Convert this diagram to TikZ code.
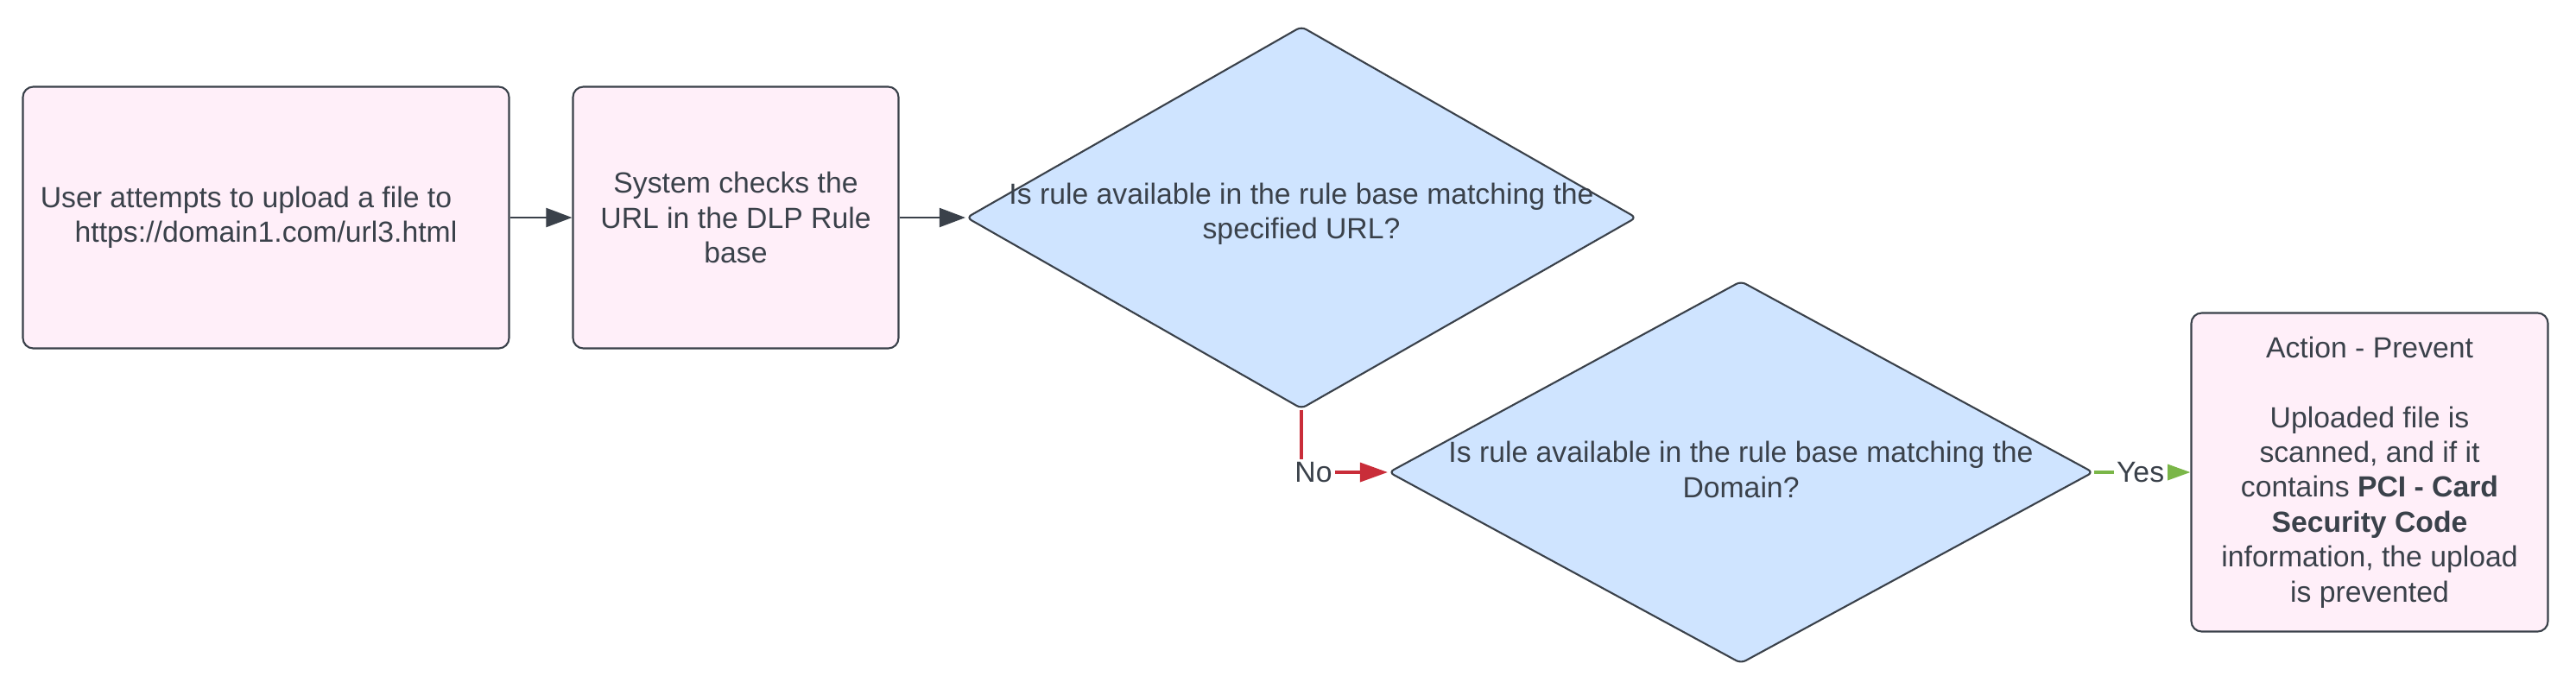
\documentclass[tikz,border=0pt]{standalone}
\usepackage{fontspec}
\setmainfont{Liberation Sans}
\usepackage{tikz}
\usetikzlibrary{positioning,calc,shapes.geometric,arrows.meta}
\definecolor{boxpink}{RGB}{255,239,249}
\definecolor{decblue}{RGB}{207,228,255}
\definecolor{linegray}{RGB}{58,65,74}
\definecolor{noRed}{RGB}{201,45,57}
\definecolor{yesGreen}{RGB}{122,182,72}

\begin{document}
\begin{tikzpicture}[
	every node/.style={font=\fontsize{9.6}{11.5}\selectfont, text=linegray},
	stepbox/.style={rectangle,draw=linegray,fill=boxpink,line width=0.6pt,rounded corners=0.12cm,align=center},
	decision/.style={diamond,draw=linegray,fill=decblue,line width=0.6pt,rounded corners=0.06cm,inner sep=0pt,minimum height=4.43cm},
	flow/.style={linegray,line width=0.6pt,-{Triangle[length=0.3cm,width=0.22cm]}},
	noflow/.style={noRed,line width=1pt,-{Triangle[length=0.32cm,width=0.22cm]}},
	yesflow/.style={yesGreen,line width=1pt,-{Triangle[length=0.32cm,width=0.22cm]}},
	]
		
		\useasboundingbox (0,0) rectangle (29.83,-8.04);
		
		\node[stepbox, minimum width=5.63cm, minimum height=3.03cm] (U) at (3.08,-2.52) {User attempts to upload a file to\hspace{0.46cm}\mbox{}\\https://domain1.com/url3.html};
		
		\node[stepbox, minimum width=3.77cm, minimum height=3.03cm] (S) at (8.52,-2.52) {System checks the\\URL in the DLP Rule\\base};
		
		\node[decision, minimum width=7.76cm] (Q1) at (15.07,-2.52) {};
		\node[align=center] (Q1 text) at ($(Q1)+(0,0.04)$) {Is rule available in the rule base matching the\\specified URL?};
		
		\node[decision, minimum width=8.16cm] (Q2) at (20.16,-5.47) {};
		\node[align=center] (Q2 text) at ($(Q2)+(0,0.03)$) {Is rule available in the rule base matching the\\Domain?};
		
		\node[stepbox, minimum width=4.13cm, minimum height=3.69cm] (P) at (27.44,-5.47) {Action - Prevent\\[11.5pt]Uploaded file is\\scanned, and if it\\contains \textbf{PCI - Card}\\\textbf{Security Code}\\information, the upload\\is prevented};
		
		\draw[flow] (U) -- (S);
		\draw[flow] (S) -- (Q1);
		
		\draw[noflow] (Q1.south) |- (Q2.west) node[pos=0.57,fill=white,inner sep=1pt] (No) {No};
		
		\draw[yesflow] (Q2) -- (P) node[pos=0.48,fill=white,inner sep=1pt] (Yes) {Yes};
		
\end{tikzpicture}
\end{document}
